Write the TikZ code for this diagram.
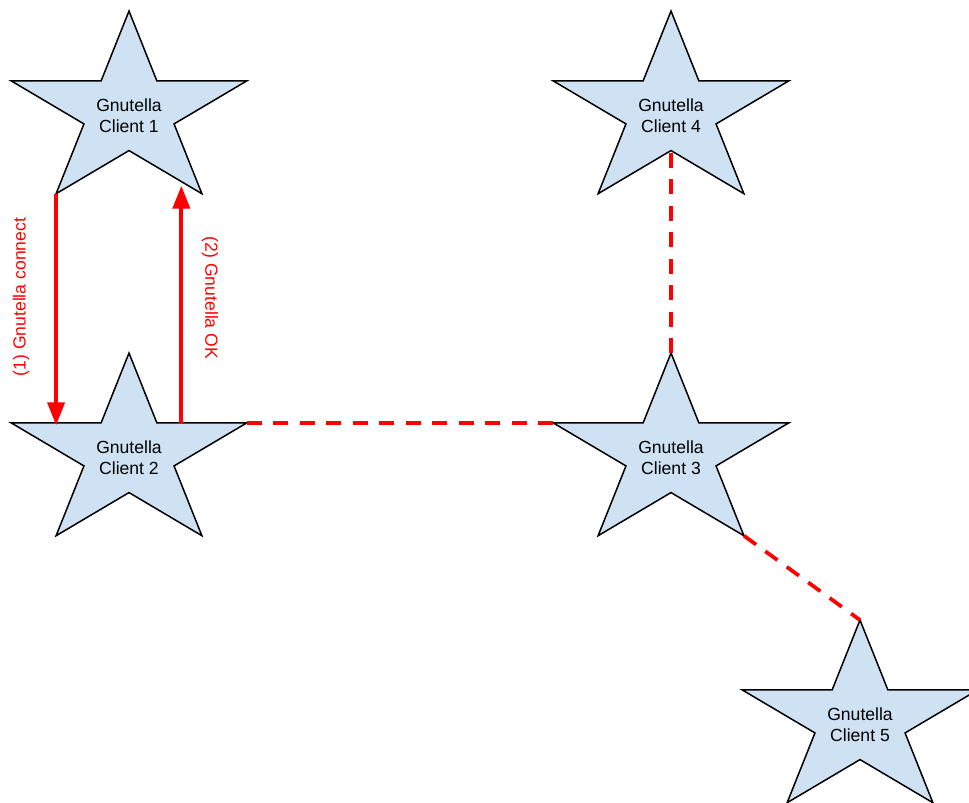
\documentclass[tikz,border=0pt]{standalone}
\usepackage{fontspec}
\setmainfont{Liberation Sans}
\usetikzlibrary{shapes.geometric,arrows.meta}

\definecolor{starblue}{HTML}{CFE2F3}
\definecolor{linkred}{HTML}{FF0000}

\begin{document}
\begin{tikzpicture}[x=0.02cm,y=-0.02cm,
	client/.style={star,star points=5,star point ratio=2.618,minimum size=4.04cm,
		inner sep=0pt,outer sep=0pt,xscale=1.228,draw=black,fill=starblue,line width=0.03cm},
	clienttext/.style={align=center,font=\fontsize{10}{12}\selectfont,yshift=-0.08cm},
	msg/.style={text=linkred,font=\fontsize{10}{12}\selectfont},
	handshake/.style={draw=linkred,line width=0.08cm,-{Triangle[length=0.46cm,width=0.34cm]}},
	peerlink/.style={draw=linkred,line width=0.075cm,dash pattern=on 0.3cm off 0.23cm}]
	\useasboundingbox (0,0) rectangle (969,802);
	\clip (0,0) rectangle (969,802);

	%STARS
	\node[client] (c1) at (129,112) {};
	\node[client] (c2) at (129,454) {};
	\node[client] (c3) at (671,454) {};
	\node[client] (c4) at (671,112) {};
	\node[client] (c5) at (860,721) {};

	%NAMES
	\foreach \i in {1,...,5}
		\node[clienttext] (t\i) at (c\i) {Gnutella\\Client \i};

	%HANDSHAKE
	\coordinate (con1) at (c1.outer point 3);
	\coordinate (con2) at (con1 |- c2.outer point 2);
	\coordinate (ok1) at ([xshift=0.49cm]c2.inner point 5);
	\coordinate (ok2) at (ok1 |- c1.outer point 4);
	\draw[handshake] (con1) -- ([yshift=-0.05cm]con2);
	\draw[handshake] (ok1) -- ([yshift=0.16cm]ok2);
	\node[msg,rotate=90] (m1) at (21,297) {(1) Gnutella connect};
	\node[msg,rotate=-90] (m2) at (210,298) {(2) Gnutella OK};

	%PEER LINKS
	\draw[peerlink] (c2.outer point 5) -- (c3.outer point 2);
	\draw[peerlink] (c3.outer point 1) -- (c4.inner point 3);
	\draw[peerlink] (c3.outer point 4) -- (c5.outer point 1);
\end{tikzpicture}
\end{document}
